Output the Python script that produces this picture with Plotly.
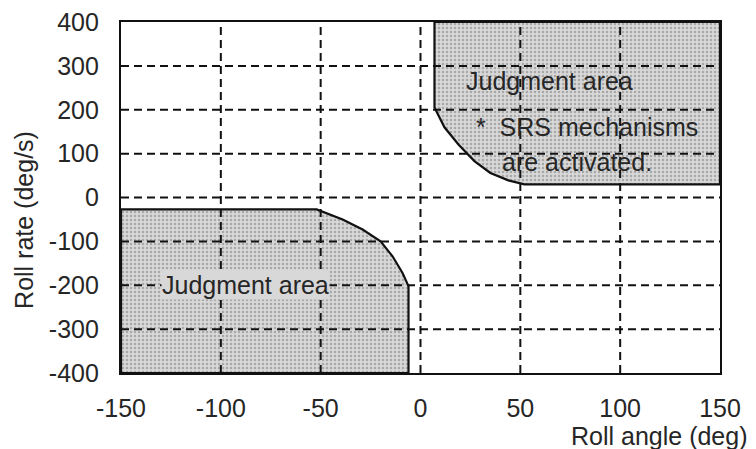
import plotly.graph_objects as go

# Axis ticks
x_ticks = [-150, -100, -50, 0, 50, 100, 150]
y_ticks = [-400, -300, -200, -100, 0, 100, 200, 300, 400]
x_grid = [-100, -50, 0, 50, 100]
y_grid = [-300, -200, -100, 0, 100, 200, 300]

# Judgment area boundaries
ur_x = [7, 7, 12, 19, 27, 35, 44, 52, 150, 150, 7]
ur_y = [400, 205, 160, 121, 83, 56, 39, 30, 30, 400, 400]
ll_x = [-150, -52, -39, -29, -20, -14, -9, -6, -6, -150, -150]
ll_y = [-27, -27, -50, -73, -100, -134, -172, -202, -400, -400, -27]

FONT = "Liberation Sans, Arial, Helvetica, sans-serif"
TXT = "#262626"
fill_pattern = dict(shape=".", bgcolor="#d8d8d8", fgcolor="#a8a8a8", size=4, solidity=0.3, fillmode="replace")

fig = go.Figure()
for xs, ys in [(ur_x, ur_y), (ll_x, ll_y)]:
    fig.add_trace(go.Scatter(x=xs, y=ys, mode="lines", fill="toself",
                             fillpattern=fill_pattern, fillcolor="#d8d8d8",
                             line=dict(color="#111111", width=2.2),
                             hoverinfo="skip", showlegend=False))

# dashed grid lines drawn above the shaded areas
for gx in x_grid:
    fig.add_shape(type="line", x0=gx, x1=gx, y0=y_ticks[0], y1=y_ticks[-1],
                  xref="x", yref="y", layer="above",
                  line=dict(color="#111111", width=2, dash="8px,5px"))
for gy in y_grid:
    fig.add_shape(type="line", x0=x_ticks[0], x1=x_ticks[-1], y0=gy, y1=gy,
                  xref="x", yref="y", layer="above",
                  line=dict(color="#111111", width=2, dash="8px,5px"))

ann_font = dict(family=FONT, size=25, color=TXT)
fig.add_annotation(x=22, y=265, text="Judgment area", showarrow=False,
                   xanchor="left", yanchor="middle", font=ann_font)
fig.add_annotation(x=27, y=160, text="*&nbsp;&nbsp;SRS mechanisms", showarrow=False,
                   xanchor="left", yanchor="middle", font=ann_font)
fig.add_annotation(x=40, y=80, text="are activated.", showarrow=False,
                   xanchor="left", yanchor="middle", font=ann_font)
fig.add_annotation(x=-130, y=-200, text="Judgment area", showarrow=False,
                   xanchor="left", yanchor="middle", font=ann_font,
                   bgcolor="#d8d8d8", borderpad=0)

# axis titles
fig.add_annotation(xref="paper", yref="paper", x=-0.162, y=0.436,
                   text="Roll rate (deg/s)", textangle=-90, showarrow=False,
                   xanchor="center", yanchor="middle", font=ann_font)
fig.add_annotation(xref="paper", yref="paper", x=1.05, y=-0.179,
                   text="Roll angle (deg)", showarrow=False,
                   xanchor="right", yanchor="middle", font=ann_font)

axis_common = dict(showgrid=False, zeroline=False, showline=True, mirror=True,
                   linecolor="#111111", linewidth=2.2, ticks="",
                   ticklabeloverflow="allow", automargin=False,
                   tickfont=dict(family=FONT, size=25, color=TXT))
fig.update_xaxes(range=[x_ticks[0], x_ticks[-1]], tickvals=x_ticks,
                 ticktext=[str(v) for v in x_ticks], ticklabelstandoff=12,
                 **axis_common)
fig.update_yaxes(range=[y_ticks[0], y_ticks[-1]], tickvals=y_ticks,
                 ticktext=[str(v) for v in y_ticks], ticklabelstandoff=15,
                 **axis_common)
# page body adds an 8px offset, so the figure is 8px smaller on each axis
fig.update_layout(width=748, height=441, margin=dict(l=113, r=36, t=14, b=76, autoexpand=False),
                  plot_bgcolor="white", paper_bgcolor="white",
                  font=dict(family=FONT, color=TXT))
fig.write_html("out.html")
